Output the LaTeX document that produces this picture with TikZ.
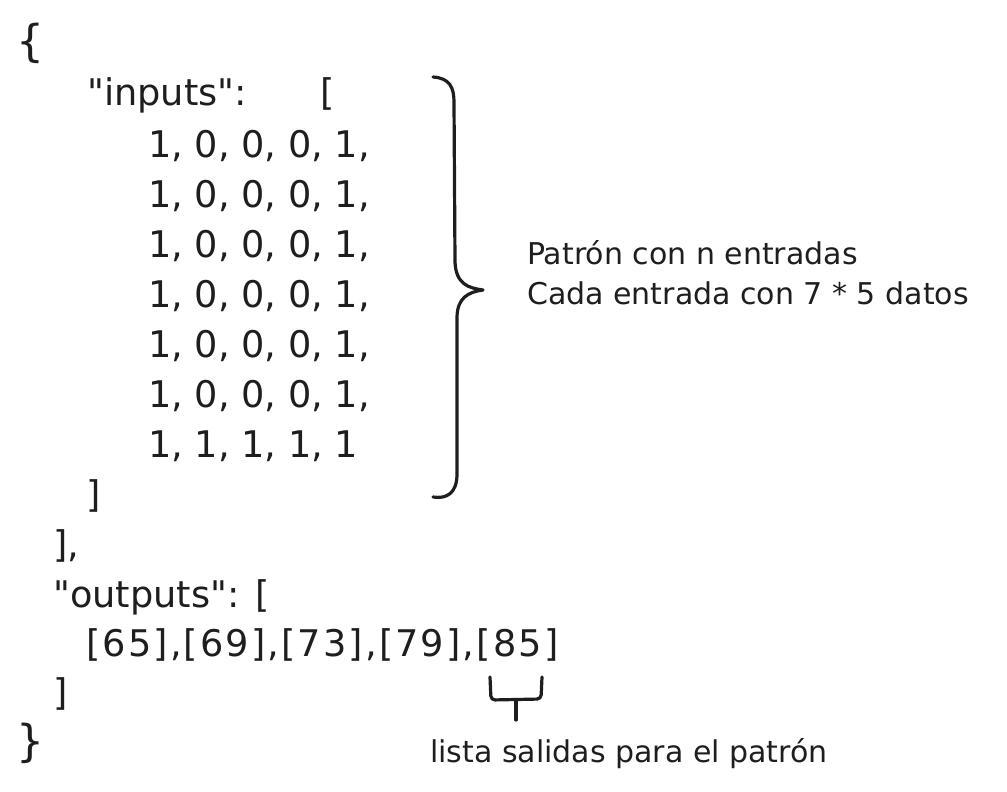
\documentclass[tikz,border=0pt]{standalone}
\usepackage{fontspec}
\setmainfont{DejaVu Sans}[Ligatures=TeXOff]
\usepackage{tikz}
\definecolor{ink}{HTML}{1E1E1E}
\newcommand{\codefont}{\fontsize{36.7}{44}\selectfont}
\newcommand{\notefont}{\fontsize{30}{40}\selectfont}
\tikzset{
  code/.style={font=\codefont, text=ink, anchor=base west, inner sep=0pt},
  curly/.style={font=\fontsize{44}{50}\selectfont, text=ink, inner sep=0pt},
  note/.style={font=\notefont, text=ink, inner sep=0pt},
  brace/.style={draw=ink, line width=3.2pt, line cap=round, line join=round}
}

\begin{document}
\begin{tikzpicture}[x=1pt,y=-1pt]
\useasboundingbox (0,0) rectangle (1007,792);
\node[curly] (open) at (30,43) {\{};
\node[code] (inputs) at (87,105) {"inputs":\hspace{74pt}[};
\node[code] (row1) at (148,157) {1, 0, 0, 0, 1,};
\node[code] (row2) at (148,207) {1, 0, 0, 0, 1,};
\node[code] (row3) at (148,257) {1, 0, 0, 0, 1,};
\node[code] (row4) at (148,307) {1, 0, 0, 0, 1,};
\node[code] (row5) at (148,357) {1, 0, 0, 0, 1,};
\node[code] (row6) at (148,407) {1, 0, 0, 0, 1,};
\node[code] (row7) at (148,457) {1, 1, 1, 1, 1};
\node[code] (inclose) at (86,507) {]};
\node[code] (outclose) at (53,557) {],};
\node[code] (outputs) at (53,607) {"outputs": [};
\node[code] (values) at (86,656) {\addfontfeatures{LetterSpace=5.8}[65],[69],[73],[79],[85]};
\node[code] (valclose) at (53,705) {]};
\node[curly] (close) at (30,743) {\}};
% notas
\node[note, anchor=north west, align=left] (patron) at (527,240)
  {Patrón con n entradas\\Cada entrada con 7 * 5 datos};
\node[note, anchor=base west] (lista) at (430,762) {lista salidas para el patrón};
% llaves
\draw[brace] (433,77) .. controls (450,78) and (454,88) .. (454,102)
  -- (455,262) .. controls (456,284) and (468,288) .. (483,290)
  .. controls (468,292) and (457,298) .. (457,318)
  -- (457,474) .. controls (457,494) and (446,499) .. (433,497);
\draw[brace, rounded corners=4pt] (490,677) -- (491,700) -- (541,699) -- (542,677);
\draw[brace] (516,700) -- (516,720);
\end{tikzpicture}
\end{document}
